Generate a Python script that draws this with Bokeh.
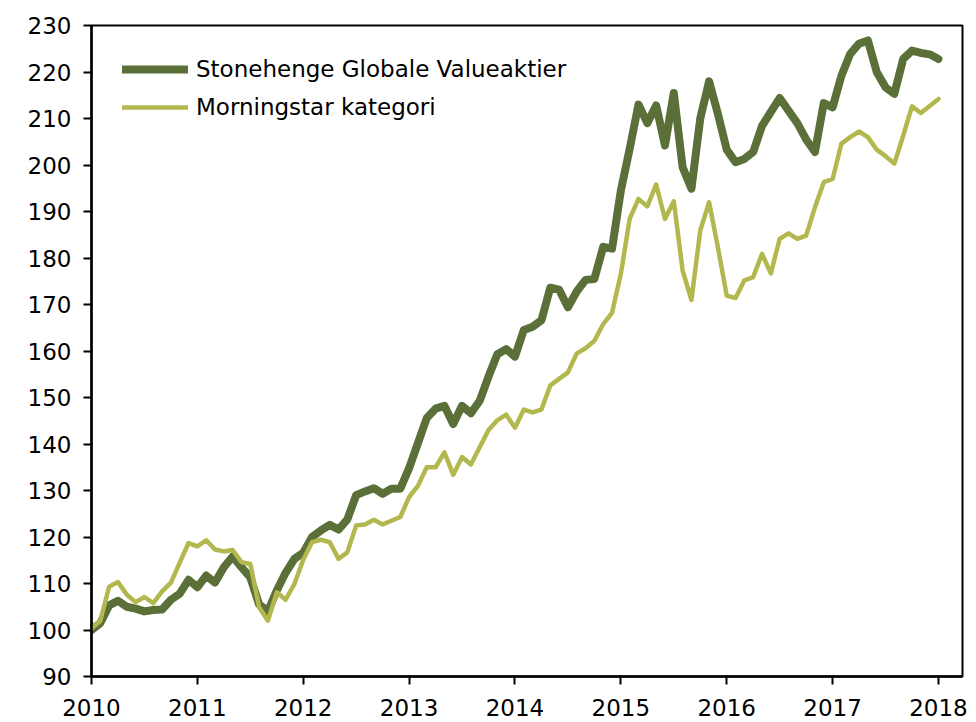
import numpy as np
from bokeh.plotting import figure
from bokeh.models import Range1d, FixedTicker, Legend, LegendItem, ColumnDataSource
from bokeh.embed import file_html
from bokeh.resources import INLINE

series_names = ["Stonehenge Globale Valueaktier", "Morningstar kategori"]
year_ticks = [2010, 2011, 2012, 2013, 2014, 2015, 2016, 2017, 2018]
value_ticks = [90, 100, 110, 120, 130, 140, 150, 160, 170, 180, 190, 200, 210, 220, 230]

# monthly index values, Jan 2010 .. Jan 2018
stonehenge = [
    100.0, 101.5, 105.3, 106.3, 105.0, 104.6, 104.0, 104.3, 104.4, 106.5, 107.8, 110.8,
    109.2, 111.7, 110.2, 113.5, 115.8, 113.5, 111.3, 105.5, 104.0, 108.5, 112.3, 115.3,
    116.6, 120.0, 121.4, 122.6, 121.6, 123.8, 129.0, 129.8, 130.5, 129.3, 130.4, 130.4,
    134.8, 140.2, 145.6, 147.6, 148.2, 144.3, 148.2, 146.6, 149.3, 154.5, 159.3, 160.4,
    158.8, 164.5, 165.2, 166.6, 173.6, 173.2, 169.4, 172.8, 175.3, 175.5, 182.4, 182.0,
    194.5, 203.5, 213.0, 209.0, 212.8, 204.2, 215.5, 199.5, 194.9, 210.0, 218.0, 211.0,
    203.3, 200.6, 201.3, 202.8, 208.4, 211.4, 214.4, 211.7, 209.0, 205.5, 202.8, 213.3,
    212.4, 219.2, 223.9, 226.1, 226.8, 220.0, 216.7, 215.3, 222.8, 224.6, 224.1, 223.8,
    222.8,
]
morningstar = [
    100.3, 102.0, 109.3, 110.3, 107.6, 106.0, 107.1, 105.8, 108.3, 110.2, 114.5, 118.7,
    118.0, 119.3, 117.3, 116.9, 117.2, 114.6, 114.2, 104.9, 102.0, 108.1, 106.5, 109.9,
    115.1, 118.9, 119.4, 118.9, 115.3, 116.7, 122.5, 122.7, 123.7, 122.7, 123.5, 124.3,
    128.6, 131.0, 135.0, 135.0, 138.2, 133.4, 137.2, 135.6, 139.3, 143.0, 145.1, 146.3,
    143.5, 147.4, 146.8, 147.4, 152.6, 154.0, 155.4, 159.5, 160.6, 162.2, 165.8, 168.2,
    176.6, 188.4, 192.7, 191.1, 195.8, 188.4, 192.2, 177.3, 171.0, 185.9, 192.0, 182.3,
    171.9, 171.4, 175.2, 175.9, 180.9, 176.7, 184.1, 185.3, 184.1, 184.8, 190.9, 196.3,
    197.0, 204.6, 206.0, 207.2, 206.0, 203.3, 201.9, 200.3, 206.3, 212.6, 211.2, 212.7,
    214.2,
]

months = 2010 + np.arange(len(stonehenge)) / 12.0
src = ColumnDataSource(dict(x=months, s=stonehenge, m=morningstar))

DARK = "#5b7039"
LIGHT = "#b2b84d"
FONT = "DejaVu Sans"

p = figure(width=976, height=722, output_backend="svg", toolbar_location=None,
           x_range=Range1d(2010, 2018.227), y_range=Range1d(90, 230))
p.min_border_left = 91
p.min_border_right = 14
p.min_border_top = 25
p.min_border_bottom = 46
p.background_fill_color = "white"
p.border_fill_color = "white"
p.outline_line_color = "black"
p.outline_line_width = 2
p.grid.visible = False

r1 = p.line("x", "s", source=src, line_color=DARK, line_width=8, line_join="round", line_cap="round")
r2 = p.line("x", "m", source=src, line_color=LIGHT, line_width=4.5, line_join="round", line_cap="round")

p.xaxis.ticker = FixedTicker(ticks=year_ticks)
p.yaxis.ticker = FixedTicker(ticks=value_ticks)
for ax in (p.xaxis[0], p.yaxis[0]):
    ax.axis_line_color = "black"
    ax.axis_line_width = 2.5
    ax.major_tick_line_color = "black"
    ax.major_tick_line_width = 2
    ax.major_tick_in = 0
    ax.major_tick_out = 8
    ax.minor_tick_line_color = None
    ax.major_label_text_font = FONT
    ax.major_label_text_font_size = "23px"
    ax.major_label_text_color = "black"
p.yaxis.major_label_standoff = 12
p.xaxis.major_label_standoff = 14

legend = Legend(items=[LegendItem(label=series_names[0], renderers=[r1]),
                       LegendItem(label=series_names[1], renderers=[r2])],
                location="top_left")
legend.margin = 31
legend.padding = 5
legend.spacing = 12
legend.glyph_width = 66
legend.glyph_height = 26
legend.label_standoff = 8
legend.label_text_font = FONT
legend.label_text_font_size = "23px"
legend.label_text_color = "black"
legend.border_line_color = None
legend.background_fill_alpha = 0
p.add_layout(legend)

open("out.html", "w").write(file_html(p, INLINE))
